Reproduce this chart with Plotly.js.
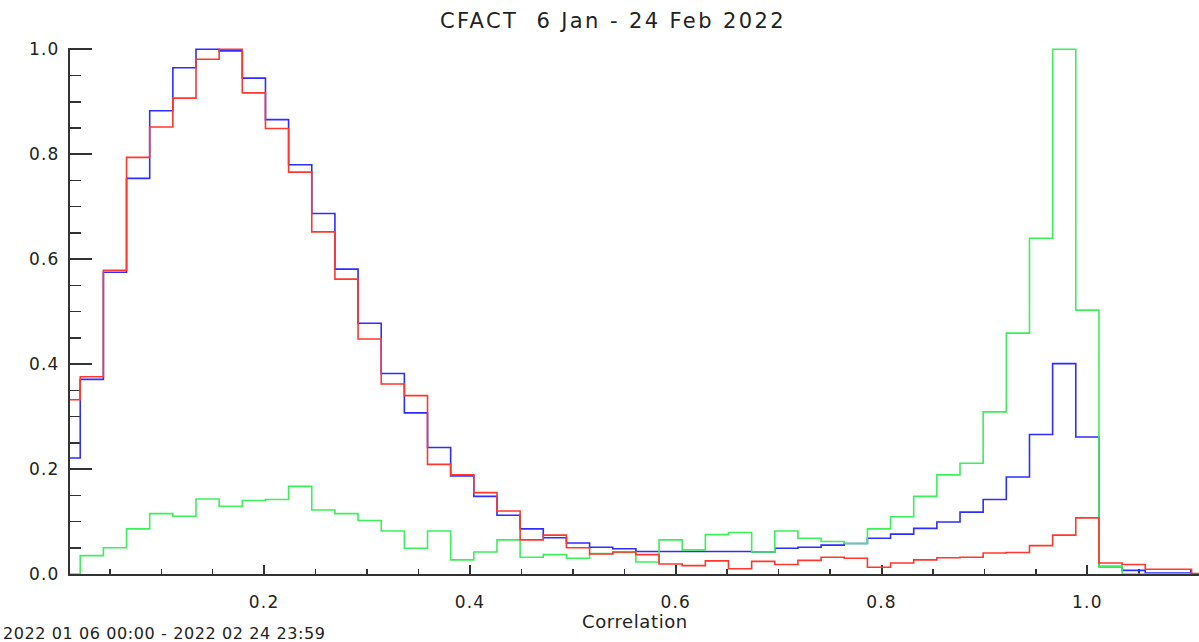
<!DOCTYPE html>
<html>
<head>
<meta charset="utf-8">
<script src="https://cdn.plot.ly/plotly-3.0.1.min.js"></script>
<style>
  html, body { margin: 0; padding: 0; background: #fff; }
  #chart { width: 1199px; height: 642px; }
  .gtitle { letter-spacing: 2.4px; }
  .xtick text, .ytick text { letter-spacing: 1.2px; }
  .annotation-text { letter-spacing: 0.6px; }
</style>
</head>
<body>
<div id="chart"></div>
<script>
// Histogram definition (correlation bins)
const binStart = -0.00125;
const binWidth = 0.0225;

// Normalised histogram heights, one value per bin (50 bins)
const blueValues = [
  0.221, 0.371, 0.575, 0.754, 0.883, 0.965, 1.000, 0.997, 0.945, 0.866,
  0.780, 0.687, 0.581, 0.478, 0.382, 0.307, 0.241, 0.187, 0.148, 0.112,
  0.086, 0.069, 0.059, 0.051, 0.048, 0.043, 0.043, 0.043, 0.043, 0.043,
  0.042, 0.049, 0.051, 0.055, 0.058, 0.068, 0.076, 0.087, 0.099, 0.118,
  0.142, 0.185, 0.266, 0.401, 0.261, 0.014, 0.007, 0.002, 0.002, 0.000
];
const redValues = [
  0.332, 0.376, 0.579, 0.794, 0.852, 0.907, 0.981, 1.000, 0.917, 0.849,
  0.766, 0.652, 0.562, 0.448, 0.362, 0.340, 0.209, 0.189, 0.155, 0.120,
  0.065, 0.074, 0.050, 0.038, 0.042, 0.037, 0.019, 0.016, 0.025, 0.010,
  0.024, 0.018, 0.026, 0.032, 0.030, 0.013, 0.021, 0.027, 0.031, 0.032,
  0.040, 0.041, 0.054, 0.074, 0.107, 0.021, 0.018, 0.009, 0.009, 0.001
];
const greenValues = [
  0.000, 0.035, 0.050, 0.086, 0.115, 0.110, 0.143, 0.129, 0.140, 0.142,
  0.167, 0.122, 0.115, 0.102, 0.082, 0.049, 0.082, 0.027, 0.042, 0.065,
  0.032, 0.037, 0.030, 0.039, 0.041, 0.023, 0.065, 0.046, 0.075, 0.079,
  0.042, 0.082, 0.068, 0.062, 0.058, 0.086, 0.109, 0.148, 0.189, 0.211,
  0.309, 0.459, 0.640, 1.000, 0.503, 0.0145, 0.000, 0.000, 0.000, 0.000
];

const titleText = 'CFACT  6 Jan - 24 Feb 2022';
const xTitleText = 'Correlation';
const footerText = '2022 01 06 00:00 - 2022 02 24 23:59';

function stepTrace(values, color) {
  const xs = [], ys = [];
  for (let i = 0; i <= values.length; i++) {
    xs.push(binStart + i * binWidth);
    ys.push(values[Math.min(i, values.length - 1)]);
  }
  return {
    type: 'scatter', mode: 'lines', x: xs, y: ys,
    line: { shape: 'hv', color: color, width: 1.6 },
    hoverinfo: 'skip', showlegend: false
  };
}

const data = [
  stepTrace(blueValues, 'rgb(45,45,255)'),
  stepTrace(greenValues, 'rgb(60,240,90)'),
  stepTrace(redValues, 'rgb(255,55,45)')
];

const axisFont = { family: 'DejaVu Sans', size: 17, color: '#222' };

const layout = {
  width: 1199, height: 642,
  margin: { l: 70, r: 0, t: 48, b: 68, pad: 0 },
  paper_bgcolor: '#fff', plot_bgcolor: '#fff',
  showlegend: false,
  title: {
    text: titleText,
    font: { family: 'DejaVu Sans', size: 21, color: '#222' },
    x: 613 / 1199, xref: 'container', xanchor: 'center',
    y: 1 - 21 / 642, yref: 'container', yanchor: 'middle'
  },
  xaxis: {
    range: [0.0113, 1.1085],
    showgrid: false, zeroline: false,
    showline: true, linecolor: '#333', linewidth: 2,
    layer: 'below traces',
    ticks: 'inside', ticklen: 9, tickwidth: 2, tickcolor: '#333',
    tick0: 0, dtick: 0.2, tickformat: '.1f',
    minor: { dtick: 0.05, tick0: 0, ticks: 'inside', ticklen: 5, tickwidth: 1.5, tickcolor: '#333', showgrid: false },
    tickfont: axisFont,
    ticklabelstandoff: 12
  },
  yaxis: {
    range: [0, 1.0025],
    showgrid: false, zeroline: false,
    showline: true, linecolor: '#333', linewidth: 2,
    layer: 'below traces',
    ticks: 'inside', ticklen: 22, tickwidth: 2, tickcolor: '#333',
    tick0: 0, dtick: 0.2, tickformat: '.1f',
    minor: { dtick: 0.05, tick0: 0, ticks: 'inside', ticklen: 11, tickwidth: 1.5, tickcolor: '#333', showgrid: false },
    tickfont: axisFont,
    ticklabelstandoff: 5
  },
  annotations: [
    {
      text: xTitleText, showarrow: false,
      xref: 'paper', yref: 'paper',
      x: 0.5, xanchor: 'center',
      y: (574.3 - 622) / 525.3, yanchor: 'middle',
      font: { family: 'DejaVu Sans', size: 18, color: '#222' }
    },
    {
      text: footerText, showarrow: false,
      xref: 'paper', yref: 'paper',
      x: (1 - 70) / 1129, xanchor: 'left',
      y: (574.3 - 634) / 525.3, yanchor: 'middle',
      font: { family: 'DejaVu Sans', size: 16, color: '#222' }
    }
  ]
};

Plotly.newPlot('chart', data, layout, { staticPlot: true, displayModeBar: false });
</script>
</body>
</html>
